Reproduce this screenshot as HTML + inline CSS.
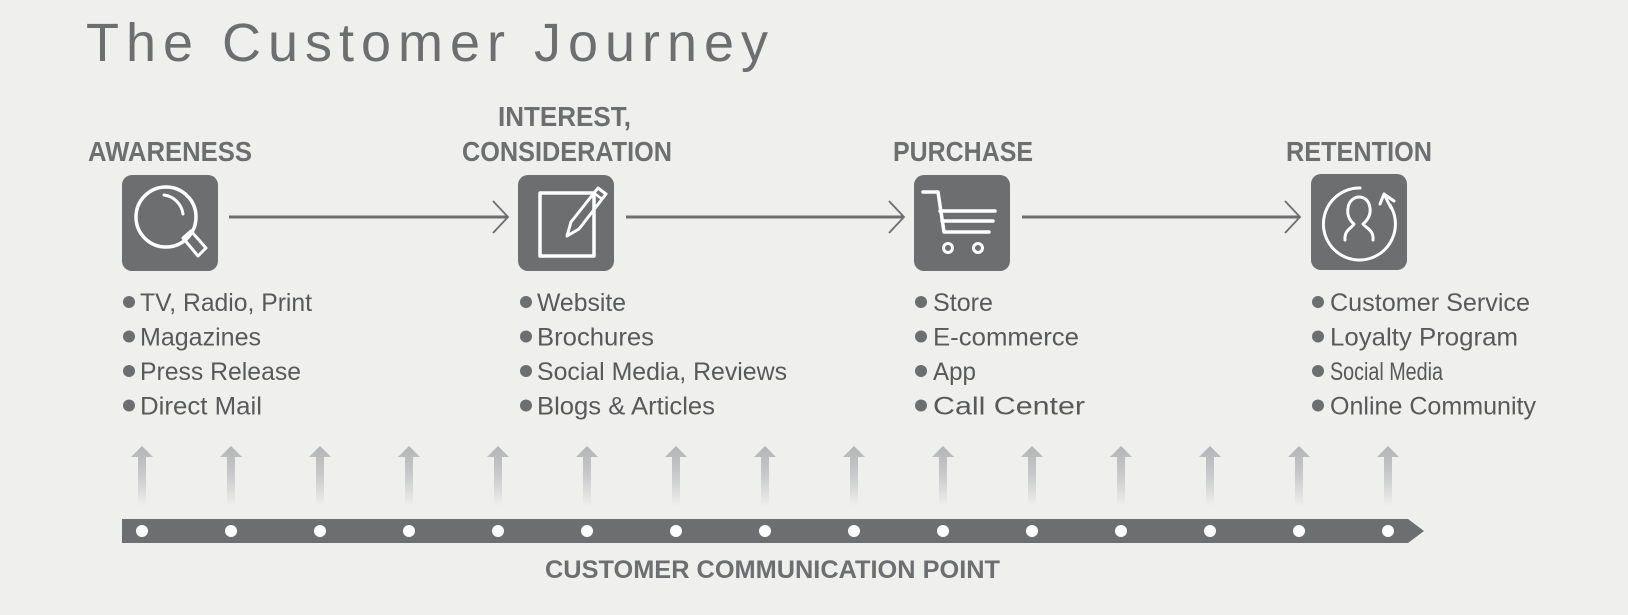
<!DOCTYPE html>
<html><head><meta charset="utf-8"><style>
html,body{margin:0;padding:0;background:#efefed;}
svg{display:block;}
text{font-family:"Liberation Sans",sans-serif;}
</style></head><body>
<svg width="1628" height="615" viewBox="0 0 1628 615" xmlns="http://www.w3.org/2000/svg">
<defs>
<linearGradient id="ug" x1="0" y1="0" x2="0" y2="1">
<stop offset="0" stop-color="#b3b4b6"/><stop offset="0.5" stop-color="#c9cacb"/><stop offset="1" stop-color="#efefed"/>
</linearGradient>
</defs>
<rect width="1628" height="615" fill="#efefed"/>
<text x="86" y="61" font-size="54" fill="#6d6e70" textLength="682" lengthAdjust="spacing">The Customer Journey</text>

<g font-weight="bold" font-size="28" fill="#6d6e70">
<text x="88" y="161" textLength="164" lengthAdjust="spacingAndGlyphs">AWARENESS</text>
<text x="498" y="126" textLength="133" lengthAdjust="spacingAndGlyphs">INTEREST,</text>
<text x="462" y="161" textLength="210" lengthAdjust="spacingAndGlyphs">CONSIDERATION</text>
<text x="893" y="161" textLength="140" lengthAdjust="spacingAndGlyphs">PURCHASE</text>
<text x="1286" y="161" textLength="146" lengthAdjust="spacingAndGlyphs">RETENTION</text>
</g>

<!-- boxes -->
<g fill="#6d6e70">
<rect x="122" y="175" width="96" height="96" rx="10"/>
<rect x="518" y="175" width="96" height="96" rx="10"/>
<rect x="914" y="175" width="96" height="96" rx="10"/>
<rect x="1311" y="174" width="96" height="96" rx="10"/>
</g>

<!-- connectors -->
<g stroke="#6d6e70" fill="none">
<line x1="229" y1="217" x2="507" y2="217" stroke-width="3"/>
<polyline points="493,201 508,217 493,233" stroke-width="1.8"/>
<line x1="626" y1="217" x2="903" y2="217" stroke-width="3"/>
<polyline points="889,201 904,217 889,233" stroke-width="1.8"/>
<line x1="1022" y1="217" x2="1299" y2="217" stroke-width="3"/>
<polyline points="1285,201 1300,217 1285,233" stroke-width="1.8"/>
</g>

<!-- icons -->
<g stroke="#fff" fill="none" stroke-width="3.5" stroke-linecap="round" stroke-linejoin="round">
<circle cx="166" cy="217" r="30"/>
<path d="M164 195 A22 22 0 0 1 183 214" stroke-width="3"/>
<path d="M183 238 L191 231 L206 248 L198 256 Z" stroke-width="3"/>

<rect x="540" y="193" width="54" height="63" stroke-width="3.5"/>
<path d="M567 236 L571 222 L598 188 L606 194 L579 229 Z" stroke-width="3"/>
<line x1="594" y1="193" x2="602" y2="199" stroke-width="2.5"/>

<path d="M923 192 L938 192 L944 232 L989 232" stroke-width="3.5"/>
<line x1="940" y1="211" x2="995" y2="211"/>
<line x1="942" y1="221" x2="993" y2="221"/>
<circle cx="948" cy="248" r="4.5" stroke-width="3"/>
<circle cx="978" cy="248" r="4.5" stroke-width="3"/>

<path d="M1360 188 A36 36 0 1 0 1390 205" stroke-width="3"/>
<path d="M1380 204 L1384 194 L1394 201" stroke-width="3"/>
<line x1="1384" y1="194" x2="1391" y2="208" stroke-width="3"/>
<path d="M1345 240 C1344 230 1352 228 1354 224 C1349 220 1347 214 1348 208 C1349 200 1355 197 1359 197 C1364 197 1369 200 1370 208 C1371 214 1368 220 1363 224 C1366 228 1374 230 1373 240" stroke-width="3"/>
</g>

<!-- lists -->
<g fill="#6d6e70">
<circle cx="129" cy="302" r="6"/><circle cx="129" cy="336.5" r="6"/><circle cx="129" cy="371" r="6"/><circle cx="129" cy="405.5" r="6"/>
<circle cx="526" cy="302" r="6"/><circle cx="526" cy="336.5" r="6"/><circle cx="526" cy="371" r="6"/><circle cx="526" cy="405.5" r="6"/>
<circle cx="921" cy="302" r="6"/><circle cx="921" cy="336.5" r="6"/><circle cx="921" cy="371" r="6"/><circle cx="921" cy="405.5" r="6"/>
<circle cx="1318" cy="302" r="6"/><circle cx="1318" cy="336.5" r="6"/><circle cx="1318" cy="371" r="6"/><circle cx="1318" cy="405.5" r="6"/>
</g>
<g font-size="25" fill="#58595b">
<text x="140" y="311" textLength="172" lengthAdjust="spacingAndGlyphs">TV, Radio, Print</text>
<text x="140" y="345.5" textLength="121" lengthAdjust="spacingAndGlyphs">Magazines</text>
<text x="140" y="380" textLength="161" lengthAdjust="spacingAndGlyphs">Press Release</text>
<text x="140" y="414.5" textLength="122" lengthAdjust="spacingAndGlyphs">Direct Mail</text>
<text x="537" y="311" textLength="89" lengthAdjust="spacingAndGlyphs">Website</text>
<text x="537" y="345.5" textLength="117" lengthAdjust="spacingAndGlyphs">Brochures</text>
<text x="537" y="380" textLength="250" lengthAdjust="spacingAndGlyphs">Social Media, Reviews</text>
<text x="537" y="414.5" textLength="178" lengthAdjust="spacingAndGlyphs">Blogs &amp; Articles</text>
<text x="933" y="311" textLength="60" lengthAdjust="spacingAndGlyphs">Store</text>
<text x="933" y="345.5" textLength="146" lengthAdjust="spacingAndGlyphs">E-commerce</text>
<text x="933" y="380" textLength="43" lengthAdjust="spacingAndGlyphs">App</text>
<text x="933" y="414.5" textLength="152" lengthAdjust="spacingAndGlyphs">Call Center</text>
<text x="1330" y="311" textLength="200" lengthAdjust="spacingAndGlyphs">Customer Service</text>
<text x="1330" y="345.5" textLength="188" lengthAdjust="spacingAndGlyphs">Loyalty Program</text>
<text x="1330" y="380" textLength="113" lengthAdjust="spacingAndGlyphs">Social Media</text>
<text x="1330" y="414.5" textLength="206" lengthAdjust="spacingAndGlyphs">Online Community</text>
</g>

<!-- up arrows -->
<g fill="url(#ug)" id="ups">
<path d="M131 457 L142 446 L153 457 L146 457 L146 506 L138 506 L138 457 Z" transform="translate(0,0)"/>
<path d="M131 457 L142 446 L153 457 L146 457 L146 506 L138 506 L138 457 Z" transform="translate(89,0)"/>
<path d="M131 457 L142 446 L153 457 L146 457 L146 506 L138 506 L138 457 Z" transform="translate(178,0)"/>
<path d="M131 457 L142 446 L153 457 L146 457 L146 506 L138 506 L138 457 Z" transform="translate(267,0)"/>
<path d="M131 457 L142 446 L153 457 L146 457 L146 506 L138 506 L138 457 Z" transform="translate(356,0)"/>
<path d="M131 457 L142 446 L153 457 L146 457 L146 506 L138 506 L138 457 Z" transform="translate(445,0)"/>
<path d="M131 457 L142 446 L153 457 L146 457 L146 506 L138 506 L138 457 Z" transform="translate(534,0)"/>
<path d="M131 457 L142 446 L153 457 L146 457 L146 506 L138 506 L138 457 Z" transform="translate(623,0)"/>
<path d="M131 457 L142 446 L153 457 L146 457 L146 506 L138 506 L138 457 Z" transform="translate(712,0)"/>
<path d="M131 457 L142 446 L153 457 L146 457 L146 506 L138 506 L138 457 Z" transform="translate(801,0)"/>
<path d="M131 457 L142 446 L153 457 L146 457 L146 506 L138 506 L138 457 Z" transform="translate(890,0)"/>
<path d="M131 457 L142 446 L153 457 L146 457 L146 506 L138 506 L138 457 Z" transform="translate(979,0)"/>
<path d="M131 457 L142 446 L153 457 L146 457 L146 506 L138 506 L138 457 Z" transform="translate(1068,0)"/>
<path d="M131 457 L142 446 L153 457 L146 457 L146 506 L138 506 L138 457 Z" transform="translate(1157,0)"/>
<path d="M131 457 L142 446 L153 457 L146 457 L146 506 L138 506 L138 457 Z" transform="translate(1246,0)"/>
</g>

<!-- bar -->
<path d="M122 519 L1408 519 L1424 531 L1408 543 L122 543 Z" fill="#6d6e70"/>
<g fill="#fff">
<circle cx="142" cy="531" r="6"/><circle cx="231" cy="531" r="6"/><circle cx="320" cy="531" r="6"/><circle cx="409" cy="531" r="6"/><circle cx="498" cy="531" r="6"/>
<circle cx="587" cy="531" r="6"/><circle cx="676" cy="531" r="6"/><circle cx="765" cy="531" r="6"/><circle cx="854" cy="531" r="6"/><circle cx="943" cy="531" r="6"/>
<circle cx="1032" cy="531" r="6"/><circle cx="1121" cy="531" r="6"/><circle cx="1210" cy="531" r="6"/><circle cx="1299" cy="531" r="6"/><circle cx="1388" cy="531" r="6"/>
</g>
<text x="545" y="578" font-size="25" font-weight="bold" fill="#6d6e70" textLength="455" lengthAdjust="spacingAndGlyphs">CUSTOMER COMMUNICATION POINT</text>
</svg>
</body></html>
